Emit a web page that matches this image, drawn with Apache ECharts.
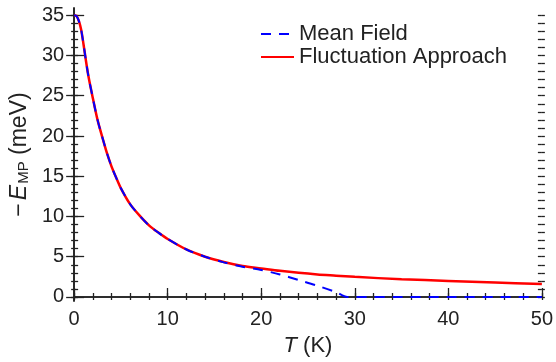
<!DOCTYPE html>
<html>
<head>
<meta charset="utf-8">
<script src="https://cdn.jsdelivr.net/npm/echarts@6/dist/echarts.min.js"></script>
<style>
  html, body { margin: 0; padding: 0; background: #fff; }
  #chart { width: 556px; height: 362px; }
</style>
</head>
<body>
<div id="chart"></div>
<script>
// temperature (K) and -E_MP (meV)
var tFluct = [0, 0.25, 0.5, 0.75, 1, 1.5, 2, 2.5, 3, 3.5, 4, 4.5, 5, 6, 7, 8, 9, 10, 12, 14, 16, 18, 20, 22, 24, 26, 28, 30, 35, 40, 45, 50];
var eFluct = [35.0, 34.9, 34.3, 33.2, 31.4, 27.6, 24.7, 22.0, 19.9, 17.9, 16.2, 14.8, 13.5, 11.5, 10.1, 8.9, 8.0, 7.2, 5.9, 5.0, 4.35, 3.85, 3.55, 3.25, 3.0, 2.8, 2.65, 2.5, 2.2, 2.0, 1.8, 1.6];
var tMean = [0, 0.25, 0.5, 0.75, 1, 1.5, 2, 2.5, 3, 3.5, 4, 4.5, 5, 6, 7, 8, 9, 10, 12, 14, 16, 18, 20, 22, 24, 26, 28, 29.2, 30, 35, 40, 45, 50];
var eMean = [35.0, 34.9, 34.3, 33.2, 31.4, 27.6, 24.7, 22.0, 19.9, 17.9, 16.2, 14.8, 13.5, 11.5, 10.1, 8.9, 8.0, 7.2, 5.9, 5.0, 4.3, 3.75, 3.35, 2.8, 2.1, 1.4, 0.6, 0, 0, 0, 0, 0, 0];

var xTicks = [0, 10, 20, 30, 40, 50];
var xMinor = [0, 2, 4, 6, 8, 10, 12, 14, 16, 18, 20, 22, 24, 26, 28, 30, 32, 34, 36, 38, 40, 42, 44, 46, 48, 50];
var yTicks = [0, 5, 10, 15, 20, 25, 30, 35];
var yMinor = [];
for (var v = 0; v <= 35; v++) yMinor.push(v);

function pairs(xs, ys) {
  var out = [];
  for (var i = 0; i < xs.length; i++) out.push([xs[i], ys[i]]);
  return out;
}

var AX = '#222';
var FONT = 'Liberation Sans';
var XMIN = 0, XMAX = 50, YMIN = -0.5, YMAX = 35.9;

// tick-only overlay axes (ticks cross the frame in the figure)
function tickAxis(dim, pos, values, len, inside) {
  return {
    type: 'value', position: pos,
    min: dim === 'x' ? XMIN : YMIN, max: dim === 'x' ? XMAX : YMAX,
    axisLine: { show: false },
    axisTick: { show: true, inside: inside, length: len, customValues: values, lineStyle: { color: AX, width: 1.3 } },
    axisLabel: { show: false },
    splitLine: { show: false }
  };
}

var chart = echarts.init(document.getElementById('chart'));
chart.setOption({
  animation: false,
  textStyle: { fontFamily: FONT },
  grid: { left: 72, right: 12, top: 8, bottom: 61 },
  legend: {
    orient: 'vertical', left: 260, top: 23,
    itemWidth: 33, itemHeight: 12, itemGap: 1, padding: 0,
    data: ['Mean Field', 'Fluctuation Approach'],
    itemStyle: { opacity: 0 },
    textStyle: { fontSize: 22, color: AX, fontFamily: FONT }
  },
  xAxis: [
    {
      type: 'value', position: 'bottom', min: XMIN, max: XMAX,
      name: '{i|T} (K)', nameLocation: 'middle', nameGap: 34,
      nameTextStyle: { fontSize: 22, color: AX, fontFamily: FONT, rich: { i: { fontStyle: 'italic', fontSize: 22, fontFamily: FONT } } },
      axisLine: { show: true, lineStyle: { color: AX, width: 1.6 } },
      axisTick: { show: true, inside: true, length: 9, customValues: xTicks, lineStyle: { color: AX, width: 1.3 } },
      axisLabel: { customValues: xTicks, fontSize: 20, color: AX, margin: 8, fontFamily: FONT },
      splitLine: { show: false }
    },
    tickAxis('x', 'bottom', xMinor, 4, true),
    tickAxis('x', 'bottom', xMinor, 3, false),
    {
      type: 'value', position: 'top', min: XMIN, max: XMAX,
      axisLine: { show: true, lineStyle: { color: AX, width: 1.6 } },
      axisTick: { show: false }, axisLabel: { show: false }, splitLine: { show: false }
    }
  ],
  yAxis: [
    {
      type: 'value', position: 'left', min: YMIN, max: YMAX,
      name: '\u2212{i|E}{sub|MP} (meV)', nameLocation: 'middle', nameGap: 36,
      nameTextStyle: {
        fontSize: 23, color: AX, fontFamily: FONT,
        rich: {
          i: { fontStyle: 'italic', fontSize: 23, fontFamily: FONT, padding: [0, 1, 0, 3] },
          sub: { fontSize: 15, fontFamily: FONT, padding: [8, 0, 0, 0] }
        }
      },
      axisLine: { show: true, lineStyle: { color: AX, width: 1.6 } },
      axisTick: { show: true, inside: true, length: 10, customValues: yTicks, lineStyle: { color: AX, width: 1.3 } },
      axisLabel: { customValues: yTicks, fontSize: 20, color: AX, margin: 10, fontFamily: FONT },
      splitLine: { show: false }
    },
    tickAxis('y', 'left', yMinor, 4, true),
    tickAxis('y', 'left', yMinor, 3, false),
    {
      type: 'value', position: 'right', min: YMIN, max: YMAX,
      axisLine: { show: true, lineStyle: { color: AX, width: 1.6 } },
      axisTick: { show: true, inside: true, length: 8, customValues: yTicks, lineStyle: { color: AX, width: 1.3 } },
      axisLabel: { show: false }, splitLine: { show: false }
    },
    tickAxis('y', 'right', yMinor, 4, true),
    tickAxis('y', 'right', yMinor, 3, false)
  ],
  series: [
    {
      name: 'Fluctuation Approach', type: 'line', xAxisIndex: 0, yAxisIndex: 0,
      data: pairs(tFluct, eFluct), showSymbol: false, symbol: 'none',
      smooth: 0.3,
      lineStyle: { color: '#ff0000', width: 2.5 },
      itemStyle: { color: '#ff0000' }
    },
    {
      name: 'Mean Field', type: 'line', xAxisIndex: 0, yAxisIndex: 0,
      data: pairs(tMean, eMean), showSymbol: false, symbol: 'none',
      smooth: 0.3,
      lineStyle: { color: '#0000ff', width: 2, type: [10, 8] },
      itemStyle: { color: '#0000ff' }
    }
  ]
});
</script>
</body>
</html>
